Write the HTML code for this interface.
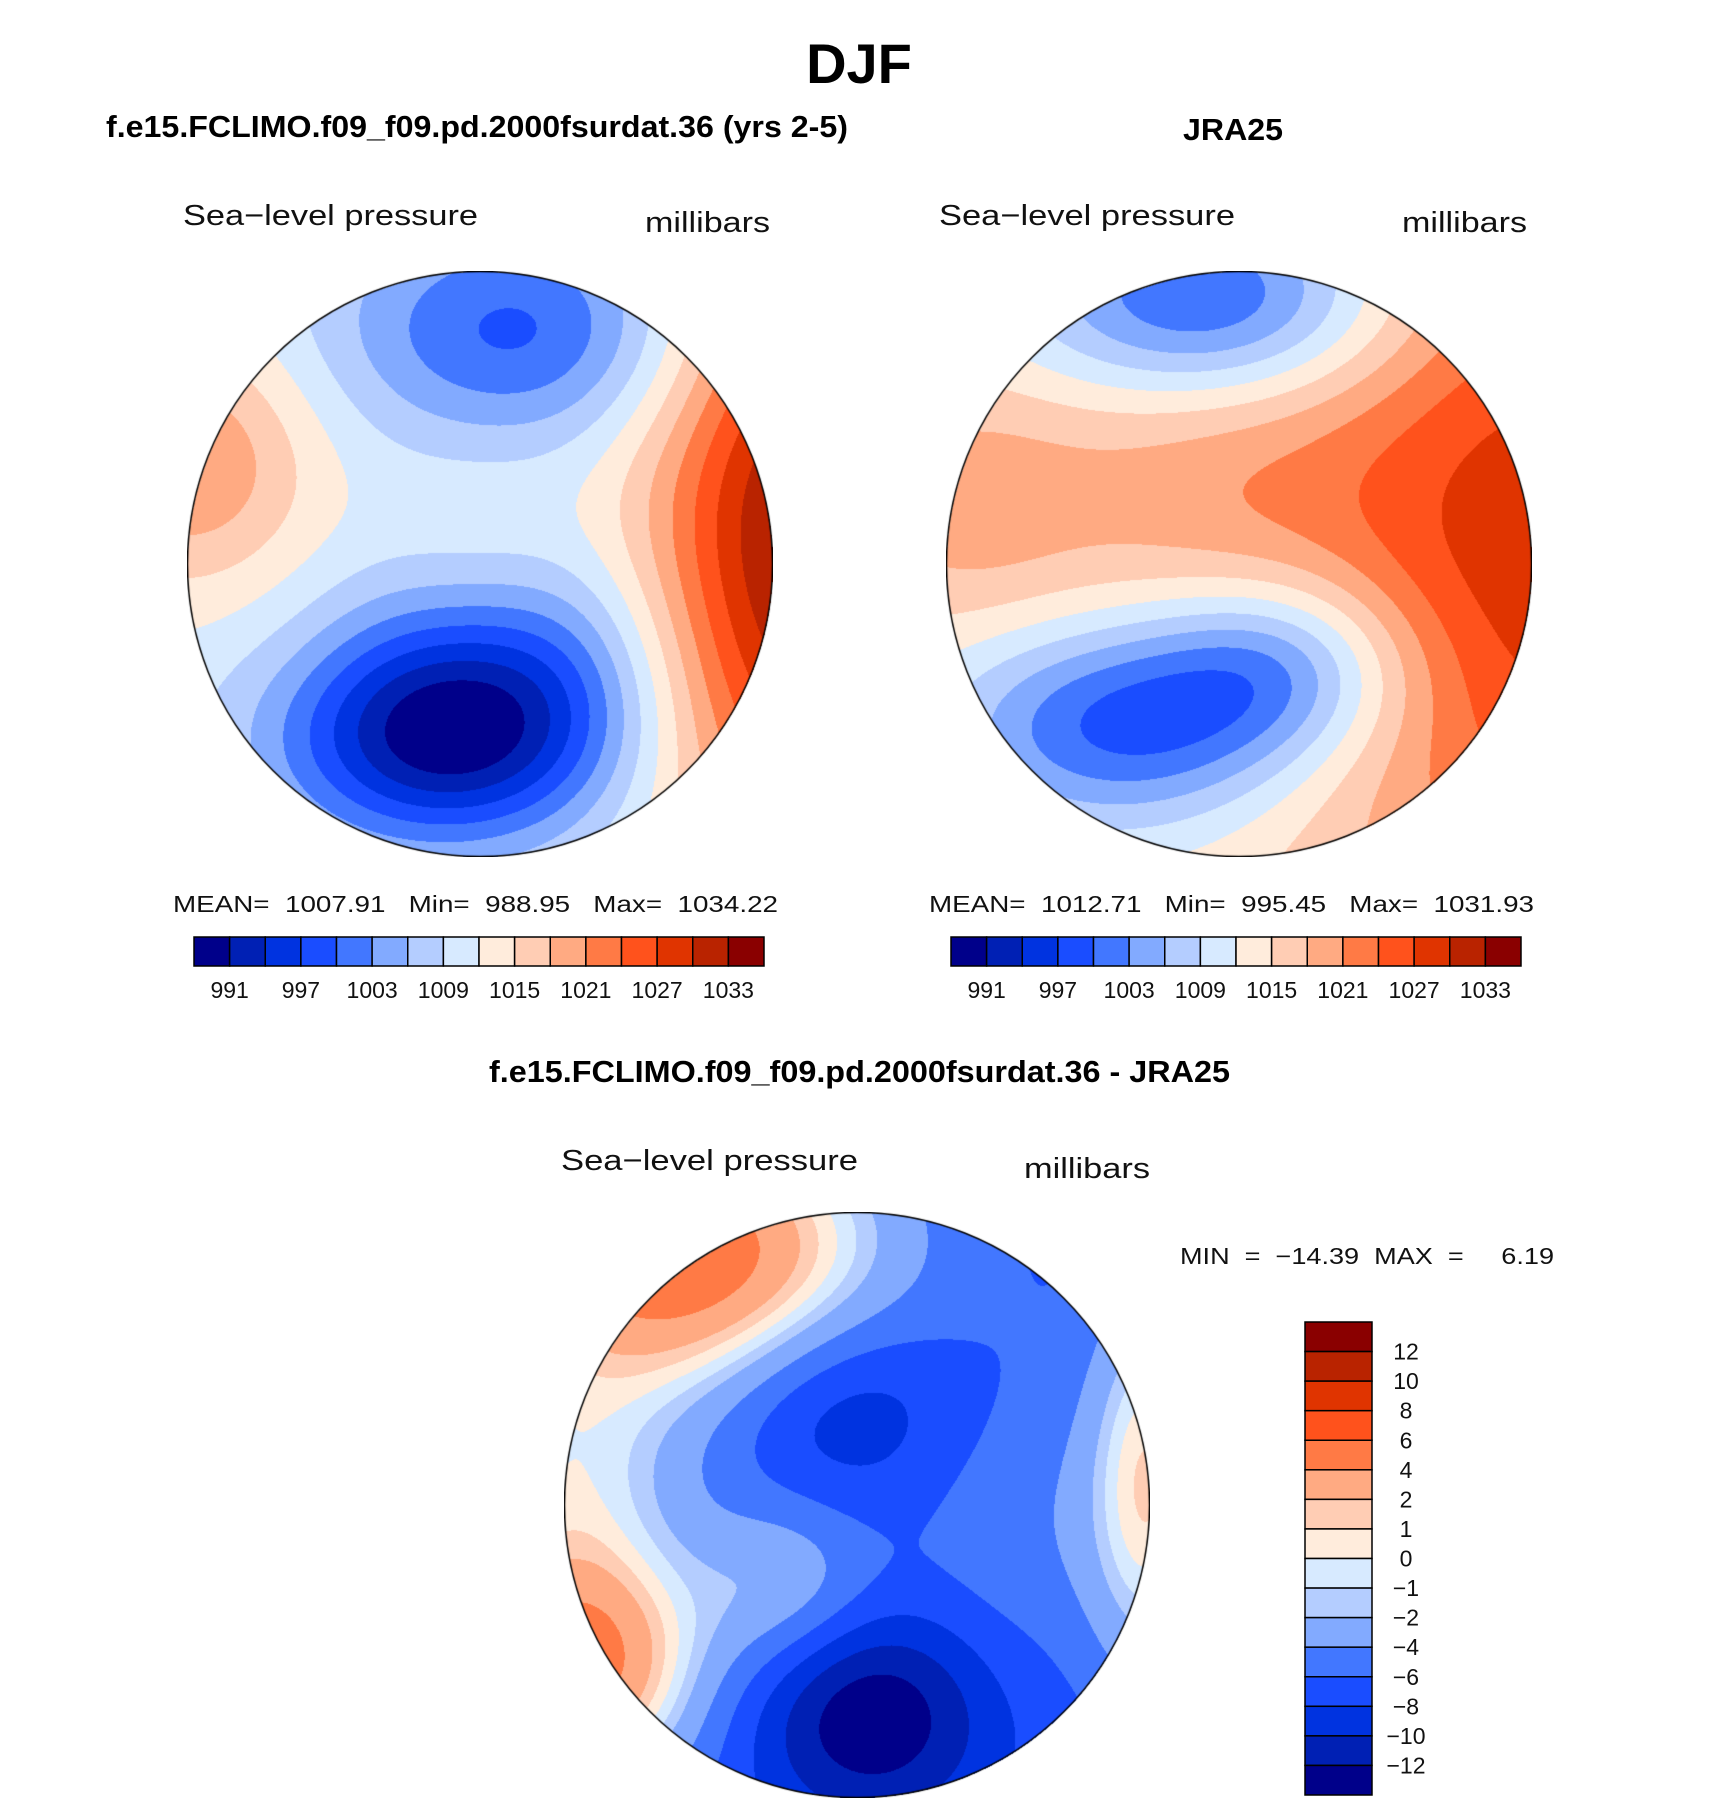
<!DOCTYPE html>
<html><head><meta charset="utf-8"><style>
html,body{margin:0;padding:0;background:#fff;}
#wrap{position:relative;width:1710px;height:1803px;overflow:hidden;font-family:"Liberation Sans",sans-serif;}
canvas{position:absolute;}
svg{position:absolute;left:0;top:0;}
svg text{white-space:pre;}
</style></head><body>
<div id="wrap">
<canvas id="m1" width="586" height="586" style="left:187px;top:271px"></canvas>
<canvas id="m2" width="586" height="586" style="left:946px;top:271px"></canvas>
<canvas id="m3" width="586" height="586" style="left:564px;top:1212px"></canvas>
<svg id="ov" width="1710" height="1803">
<text x="859" y="83" font-size="56" font-weight="bold" text-anchor="middle">DJF</text>
<text x="106" y="137" font-size="31" font-weight="bold" textLength="742" lengthAdjust="spacingAndGlyphs">f.e15.FCLIMO.f09_f09.pd.2000fsurdat.36 (yrs 2-5)</text>
<text x="1183" y="140" font-size="31" font-weight="bold" textLength="100" lengthAdjust="spacingAndGlyphs">JRA25</text>
<text x="489" y="1082" font-size="31" font-weight="bold" textLength="741" lengthAdjust="spacingAndGlyphs">f.e15.FCLIMO.f09_f09.pd.2000fsurdat.36 - JRA25</text>
<g font-size="29" fill="#111">
<text x="183" y="225" textLength="295" lengthAdjust="spacingAndGlyphs">Sea−level pressure</text>
<text x="645" y="232" textLength="125" lengthAdjust="spacingAndGlyphs">millibars</text>
<text x="939" y="225" textLength="296" lengthAdjust="spacingAndGlyphs">Sea−level pressure</text>
<text x="1402" y="232" textLength="125" lengthAdjust="spacingAndGlyphs">millibars</text>
<text x="561" y="1170" textLength="297" lengthAdjust="spacingAndGlyphs">Sea−level pressure</text>
<text x="1024" y="1178" textLength="126" lengthAdjust="spacingAndGlyphs">millibars</text>
</g>
<g font-size="23" fill="#111">
<text x="173" y="912" textLength="605" lengthAdjust="spacingAndGlyphs">MEAN=  1007.91   Min=  988.95   Max=  1034.22</text>
<text x="929" y="912" textLength="605" lengthAdjust="spacingAndGlyphs">MEAN=  1012.71   Min=  995.45   Max=  1031.93</text>
<text x="1180" y="1264" textLength="374" lengthAdjust="spacingAndGlyphs">MIN  =  −14.39  MAX  =     6.19</text>
</g>
<g id="cb"></g>
</svg>
</div>
<script>
// contour levels and colours
const slpLevels = [991,994,997,1000,1003,1006,1009,1012,1015,1018,1021,1024,1027,1030,1033];
const slpTickLabels = ["991","997","1003","1009","1015","1021","1027","1033"];
const diffLevels = [-12,-10,-8,-6,-4,-2,-1,0,1,2,4,6,8,10,12];
const diffTickLabels = ["12","10","8","6","4","2","1","0","−1","−2","−4","−6","−8","−10","−12"];
const palette = ["#00008a","#0020b4","#0033e0","#1a4dff","#4277ff","#82aaff","#b4cdff","#d7eaff","#ffecdc","#ffcdb4","#ffaa82","#ff7a45","#ff521c","#e03400","#b92300","#8a0000"];

// Pressure-system centres (normalised disk coordinates)
const m1Base = 1011;
const m1X   = [-0.15, 0.25, 0.15, 1.15, -1.00, -0.25, 0.0];
const m1Y   = [ 0.60, 0.35,-0.80,-0.10, -0.35,  0.25, -0.1];
const m1Amp = [-20,  -8,  -12,   24,    10,    -3,   2];
const m1Sx  = [0.38,0.30,0.45,0.40,0.30,0.25,0.25];
const m1Sy  = [0.25,0.30,0.28,0.80,0.30,0.25,0.25];

const m2Base = 1014;
const m2X   = [-0.40, 0.15,-0.10, 1.05,-0.15,-0.95];
const m2Y   = [ 0.55, 0.35,-0.90,-0.05,-0.35,-0.20];
const m2Amp = [-15, -12, -17, 15, 5, 5];
const m2Sx  = [0.42,0.32,0.45,0.60,0.45,0.30];
const m2Sy  = [0.25,0.22,0.25,0.90,0.45,0.30];

const m3Base = -7;
const m3X   = [-0.60,-0.95,-1.00, 0.05,-0.05, 1.00,-0.25, 0.60];
const m3Y   = [-0.85, 0.55,-0.10, 0.72,-0.35,-0.10, 0.27, 0.05];
const m3Amp = [13, 12, 5, -7, -4, 7, 4.5, 2.5];
const m3Sx  = [0.50,0.30,0.30,0.28,0.30,0.15,0.22,0.35];
const m3Sy  = [0.35,0.30,0.30,0.25,0.25,0.50,0.22,0.40];

function levelIndex(v, levels){let i=0;while(i<levels.length && v>=levels[i])i++;return i;}
function hex(c){return [parseInt(c.substr(1,2),16),parseInt(c.substr(3,2),16),parseInt(c.substr(5,2),16)];}
const pal = palette.map(hex);

function drawMap(id, base, X, Y, A, SX, SY, levels){
  const cv=document.getElementById(id), ctx=cv.getContext('2d');
  const N=cv.width, R=N/2-0.5;
  const img=ctx.createImageData(N,N);
  for(let py=0;py<N;py++){for(let px=0;px<N;px++){
    const u=(px-N/2)/R, v=(py-N/2)/R;
    if(u*u+v*v>1) continue;
    let val=base;
    for(let k=0;k<X.length;k++){const dx=(u-X[k])/SX[k], dy=(v-Y[k])/SY[k];val+=A[k]*Math.exp(-(dx*dx+dy*dy)/2);}
    const c=pal[levelIndex(val,levels)], o=(py*N+px)*4;
    img.data[o]=c[0];img.data[o+1]=c[1];img.data[o+2]=c[2];img.data[o+3]=255;
  }}
  ctx.putImageData(img,0,0);
  ctx.beginPath();ctx.arc(N/2,N/2,R,0,Math.PI*2);ctx.strokeStyle='#000';ctx.lineWidth=1.5;ctx.stroke();
}
drawMap('m1',m1Base,m1X,m1Y,m1Amp,m1Sx,m1Sy,slpLevels);
drawMap('m2',m2Base,m2X,m2Y,m2Amp,m2Sx,m2Sy,slpLevels);
drawMap('m3',m3Base,m3X,m3Y,m3Amp,m3Sx,m3Sy,diffLevels);

const NS='http://www.w3.org/2000/svg';
const cb=document.getElementById('cb');
function hbar(x0,y0,w,h,name){
  const bw=w/palette.length;
  for(let i=0;i<palette.length;i++){
    const r=document.createElementNS(NS,'rect');
    r.setAttribute('x',x0+i*bw);r.setAttribute('y',y0);r.setAttribute('width',bw);r.setAttribute('height',h);
    r.setAttribute('fill',palette[i]);r.setAttribute('stroke','#000');r.setAttribute('stroke-width','1.5');
    
    
    cb.appendChild(r);
  }
  slpTickLabels.forEach((lab,j)=>{
    const t=document.createElementNS(NS,'text');
    t.setAttribute('x',x0+(2*j+1)*bw);t.setAttribute('y',y0+h+32);t.setAttribute('font-size','23');t.setAttribute('text-anchor','middle');t.setAttribute('fill','#111');
    t.textContent=lab;
    
    
    cb.appendChild(t);
  });
}
hbar(194,937,570,29,'model-colorbar');
hbar(951,937,570,29,'jra25-colorbar');
(function(){
  const x0=1305,y0=1322,w=67,h=473,bh=h/palette.length;
  for(let i=0;i<palette.length;i++){
    const r=document.createElementNS(NS,'rect');
    r.setAttribute('x',x0);r.setAttribute('y',y0+i*bh);r.setAttribute('width',w);r.setAttribute('height',bh);
    r.setAttribute('fill',palette[palette.length-1-i]);r.setAttribute('stroke','#000');r.setAttribute('stroke-width','1.5');
    
    
    cb.appendChild(r);
  }
  diffTickLabels.forEach((lab,j)=>{
    const t=document.createElementNS(NS,'text');
    t.setAttribute('x',1406);t.setAttribute('y',y0+(j+1)*bh+8);t.setAttribute('font-size','23');t.setAttribute('text-anchor','middle');t.setAttribute('fill','#111');
    t.textContent=lab;
    
    
    cb.appendChild(t);
  });
})();
</script>
</body></html>
